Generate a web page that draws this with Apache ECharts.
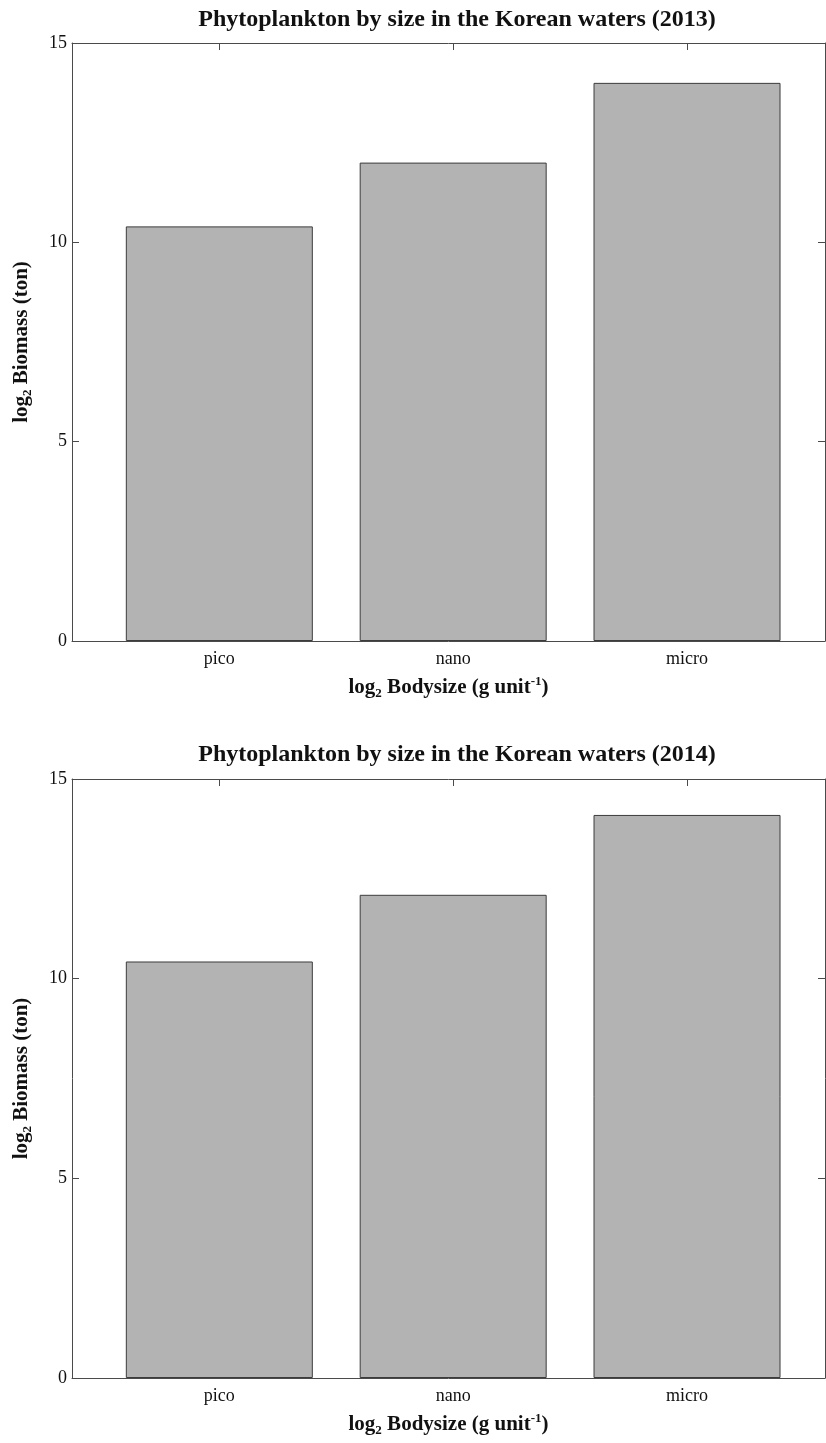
<!DOCTYPE html>
<html>
<head>
<meta charset="utf-8">
<script src="https://cdn.jsdelivr.net/npm/echarts@6/dist/echarts.min.js"></script>
<style>
html,body{margin:0;padding:0;background:#fff;}
#c{width:826px;height:1443px;}
</style>
</head>
<body>
<div id="c"></div>
<script>
// ---- data ----
const categories = ['pico', 'nano', 'micro'];
const positions = [1, 2, 3];
const biomass2013 = [10.4, 12.0, 14.0];
const biomass2014 = [10.43, 12.1, 14.1];
const yTicks = [0, 5, 10, 15];
const titles = [
  'Phytoplankton by size in the Korean waters (2013)',
  'Phytoplankton by size in the Korean waters (2014)'
];

const FONT = '"Liberation Serif", "Times New Roman", serif';
const AX = '#4a4a4a';
const xMin = 0.37, xMax = 3.59;

const grids = [
  {left: 72, right: 1, top: 43, height: 598},
  {left: 72, right: 1, top: 779, height: 599}
];

const xAxes = [], yAxes = [], series = [];
const datasets = [biomass2013, biomass2014];

grids.forEach((g, i) => {
  // bottom x axis
  xAxes.push({
    type: 'value', gridIndex: i, min: xMin, max: xMax, position: 'bottom',
    splitLine: {show: false},
    axisLine: {show: true, onZero: false, lineStyle: {color: AX, width: 1}},
    axisTick: {show: true, inside: true, length: 7, customValues: positions, lineStyle: {color: AX}},
    axisLabel: {show: true, customValues: positions, margin: 9,
      formatter: v => categories[positions.indexOf(Math.round(v))] || '',
      fontFamily: FONT, fontSize: 18, color: '#111'},
    name: '{b|log}{s|2}{b| Bodysize (g unit}{p|-1}{b|)}',
    nameLocation: 'middle', nameGap: 34,
    nameTextStyle: {
      rich: {
        b: {fontFamily: FONT, fontWeight: 'bold', fontSize: 21, color: '#111'},
        s: {fontFamily: FONT, fontWeight: 'bold', fontSize: 13, color: '#111', verticalAlign: 'bottom', padding: [12, 0, 0, 0]},
        p: {fontFamily: FONT, fontWeight: 'bold', fontSize: 13, color: '#111', verticalAlign: 'top', padding: [0, 0, 10, 0]}
      }
    }
  });
  // top x axis (frame)
  xAxes.push({
    type: 'value', gridIndex: i, min: xMin, max: xMax, position: 'top',
    splitLine: {show: false},
    axisLine: {show: true, onZero: false, lineStyle: {color: AX, width: 1}},
    axisTick: {show: true, inside: true, length: 7, customValues: positions, lineStyle: {color: AX}},
    axisLabel: {show: false}
  });
  // left y axis
  yAxes.push({
    type: 'value', gridIndex: i, min: 0, max: 15, interval: 5, position: 'left',
    splitLine: {show: false},
    axisLine: {show: true, onZero: false, lineStyle: {color: AX, width: 1}},
    axisTick: {show: true, inside: true, length: 7, lineStyle: {color: AX}},
    axisLabel: {show: true, margin: 5, fontFamily: FONT, fontSize: 18, color: '#111',
      formatter: v => (yTicks.indexOf(v) >= 0 ? String(v) : '')},
    name: '{b|log}{s|2}{b| Biomass (ton)}',
    nameLocation: 'middle', nameGap: 38, nameRotate: 90,
    nameTextStyle: {
      rich: {
        b: {fontFamily: FONT, fontWeight: 'bold', fontSize: 21, color: '#111'},
        s: {fontFamily: FONT, fontWeight: 'bold', fontSize: 13, color: '#111', verticalAlign: 'bottom', padding: [12, 0, 0, 0]}
      }
    }
  });
  // right y axis (frame)
  yAxes.push({
    type: 'value', gridIndex: i, min: 0, max: 15, interval: 5, position: 'right',
    splitLine: {show: false},
    axisLine: {show: true, onZero: false, lineStyle: {color: AX, width: 1}},
    axisTick: {show: true, inside: true, length: 7, lineStyle: {color: AX}},
    axisLabel: {show: false}
  });
  series.push({
    type: 'bar',
    xAxisIndex: i * 2, yAxisIndex: i * 2,
    barWidth: 187,
    data: positions.map((p, k) => [p, datasets[i][k]]),
    itemStyle: {color: '#b3b3b3', borderColor: '#3c3c3c', borderWidth: 1},
    emphasis: {disabled: true},
    silent: true
  });
});

const chart = echarts.init(document.getElementById('c'), null, {renderer: 'canvas'});
chart.setOption({
  animation: false,
  backgroundColor: '#fff',
  title: [
    {text: titles[0], left: 452, top: 3, textAlign: 'center',
      textStyle: {fontFamily: FONT, fontWeight: 'bold', fontSize: 24, color: '#111'}},
    {text: titles[1], left: 452, top: 738, textAlign: 'center',
      textStyle: {fontFamily: FONT, fontWeight: 'bold', fontSize: 24, color: '#111'}}
  ],
  grid: grids,
  xAxis: xAxes,
  yAxis: yAxes,
  series: series
});
</script>
</body>
</html>
